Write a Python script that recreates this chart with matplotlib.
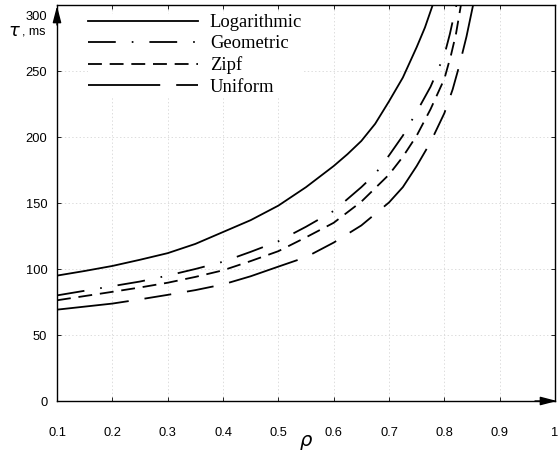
import matplotlib
matplotlib.use("Agg")
import matplotlib.pyplot as plt
import matplotlib.transforms as mtransforms

plt.rcParams['font.family'] = ['Liberation Sans', 'DejaVu Sans']
plt.rcParams['lines.scale_dashes'] = False

# ρ and delay τ (ms)
rho_log = [0.1, 0.15, 0.2, 0.25, 0.3, 0.35, 0.4, 0.45, 0.5, 0.55, 0.6, 0.625, 0.65,
           0.675, 0.7, 0.725, 0.75, 0.765, 0.779, 0.79]
tau_log = [95, 98.5, 102.3, 107, 112, 119, 128, 137, 148, 162, 178, 187, 197,
           210, 227, 245, 268, 283, 300, 312]

rho_geo = [0.1, 0.15, 0.2, 0.25, 0.3, 0.35, 0.4, 0.45, 0.5, 0.55, 0.6, 0.65, 0.675,
           0.7, 0.725, 0.75, 0.775, 0.8, 0.81, 0.82, 0.826]
tau_geo = [80, 83.5, 87, 90.5, 95, 100, 105.5, 113, 121, 132, 144, 162, 172,
           186, 201, 219, 238, 262, 278, 297, 306]

rho_zipf = [0.1, 0.15, 0.2, 0.25, 0.3, 0.35, 0.4, 0.45, 0.5, 0.55, 0.6, 0.65, 0.7,
            0.725, 0.75, 0.775, 0.8, 0.812, 0.821, 0.83, 0.835]
tau_zipf = [76.3, 79.5, 82.7, 86, 89.6, 94, 99, 106, 113.5, 124, 135, 151, 171.5,
            185, 201, 221, 244, 262, 278, 300, 310]

rho_uni = [0.1, 0.15, 0.2, 0.25, 0.3, 0.35, 0.4, 0.45, 0.5, 0.55, 0.6, 0.65, 0.7,
           0.725, 0.75, 0.775, 0.8, 0.815, 0.827, 0.84, 0.852, 0.858]
tau_uni = [69.2, 71.5, 73.8, 77, 80.4, 84, 88.3, 94.5, 101.8, 109, 120, 133, 150.4,
           162, 178, 196, 218, 236, 254, 276, 300, 312]

xticks = [0.1, 0.2, 0.3, 0.4, 0.5, 0.6, 0.7, 0.8, 0.9, 1.0]
xticklabels = ['0.1', '0.2', '0.3', '0.4', '0.5', '0.6', '0.7', '0.8', '0.9', '1']
yticks = [0, 50, 100, 150, 200, 250, 300]

fig = plt.figure(figsize=(5.58, 4.54), dpi=100)
ax = fig.add_axes([57 / 558, 1 - 401 / 454, 498 / 558, 396 / 454])

lw = 1.3
ax.plot(rho_log, tau_log, color='k', lw=lw, label='Logarithmic')
ax.plot(rho_geo, tau_geo, color='k', lw=lw, dashes=(20, 11.5, 1.2, 11.5), label='Geometric')
ax.plot(rho_zipf, tau_zipf, color='k', lw=lw, dashes=(10, 5.6), label='Zipf')
ax.plot(rho_uni, tau_uni, color='k', lw=lw,
        dashes=(52, 11.5, 19.5, 11.5, 19.5, 11.5), label='Uniform')

ax.set_xlim(0.1, 1.0)
ax.set_ylim(0, 300)
ax.set_xticks(xticks)
ax.set_xticklabels(xticklabels)
ax.set_yticks(yticks)
ax.grid(True, color='#dcdcdc', linestyle=':', linewidth=0.7)
ax.tick_params(direction='in', length=3, width=0.6, top=True, right=True,
               labelsize=9.3, colors='k')
ax.tick_params(axis='x', pad=19)
ax.tick_params(axis='y', pad=7)
for s in ax.spines.values():
    s.set_linewidth(1.0)

# the top label sits a little below its tick, as in the original
lab300 = ax.get_yticklabels()[-1]
lab300.set_transform(lab300.get_transform() +
                     mtransforms.ScaledTranslation(0, -11 / 100, fig.dpi_scale_trans))

# arrow heads on the axes
head = dict(arrowstyle='-|>,head_length=1.0,head_width=0.26', color='k',
            lw=1.0, mutation_scale=10, shrinkA=0, shrinkB=0)
ax.annotate('', xy=(0, 1 - 1 / 396), xytext=(0, 1 - 20 / 396),
            xycoords='axes fraction', arrowprops=head, annotation_clip=False)
ax.annotate('', xy=(1 + 2 / 498, 0), xytext=(1 - 20 / 498, 0),
            xycoords='axes fraction', arrowprops=head, annotation_clip=False)

leg = ax.legend(loc='upper left', bbox_to_anchor=(31 / 498, 1 - 9 / 396),
                prop={'family': 'Liberation Serif', 'size': 13.4},
                handlelength=5.9, handletextpad=0.65, labelspacing=0.23,
                borderpad=0, borderaxespad=0, frameon=True, fancybox=False)
leg.get_frame().set_edgecolor('none')
leg.get_frame().set_facecolor('white')
leg.get_frame().set_alpha(1)

fig.text(8 / 558, 1 - 32 / 454, r'$\tau$', fontsize=13, va='center', ha='left')
fig.text(22 / 558, 1 - 32 / 454, ', ms', fontsize=9, va='center', ha='left')
fig.text(306 / 558, 1 - 443 / 454, r'$\rho$', fontsize=14, va='center', ha='center')

fig.savefig('out.png', dpi=100)
